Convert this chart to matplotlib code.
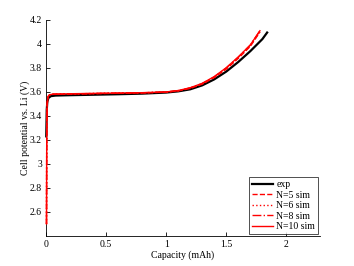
import matplotlib
matplotlib.use('Agg')
import matplotlib.pyplot as plt

plt.rcParams['font.family'] = ['Liberation Serif']
plt.rcParams['font.size'] = 7

# experiment
expCap = [0.002, 0.006, 0.011, 0.02, 0.04, 0.08, 0.2, 0.4, 0.6, 0.8, 1.0, 1.1, 1.2, 1.3, 1.4, 1.5, 1.6, 1.7, 1.8, 1.84]
expV = [3.23, 3.45, 3.52, 3.55, 3.565, 3.57, 3.573, 3.577, 3.581, 3.586, 3.595, 3.605, 3.622, 3.655, 3.705, 3.77, 3.85, 3.94, 4.04, 4.095]

# simulations
simCap = [0.004, 0.006, 0.01, 0.016, 0.03, 0.06, 0.2, 0.4, 0.6, 0.8, 1.0, 1.1, 1.2, 1.3, 1.4, 1.5, 1.6, 1.7, 1.78]
simV5 = [2.5, 3.3, 3.5, 3.56, 3.575, 3.58, 3.583, 3.586, 3.589, 3.592, 3.598, 3.608, 3.63, 3.665, 3.72, 3.79, 3.88, 3.98, 4.1]
simV6 = [2.5, 3.3, 3.5, 3.56, 3.576, 3.581, 3.584, 3.587, 3.59, 3.593, 3.599, 3.61, 3.632, 3.668, 3.723, 3.795, 3.885, 3.985, 4.1]
simV8 = [2.5, 3.31, 3.5, 3.561, 3.576, 3.581, 3.584, 3.587, 3.59, 3.593, 3.6, 3.611, 3.634, 3.67, 3.726, 3.8, 3.89, 3.99, 4.11]
simV10 = [2.5, 3.31, 3.51, 3.562, 3.577, 3.582, 3.585, 3.588, 3.591, 3.594, 3.6, 3.612, 3.635, 3.672, 3.728, 3.802, 3.892, 3.992, 4.11]

yTicks = [2.6, 2.8, 3, 3.2, 3.4, 3.6, 3.8, 4, 4.2]
yLabels = ['2.6', '2.8', '3', '3.2', '3.4', '3.6', '3.8', '4', '4.2']
xTicks = [0, 0.5, 1, 1.5, 2]
xLabels = ['0', '0.5', '1', '1.5', '2']

fig = plt.figure(figsize=(3.54, 2.66), dpi=100)
ax = fig.add_axes([0.13, 0.113, 0.774, 0.812])

ax.plot(expCap, expV, 'k-', linewidth=1.6, label='exp', zorder=3, clip_on=False)
ax.plot(simCap, simV5, 'r--', linewidth=1.0, label='N=5 sim', zorder=4, clip_on=False)
ax.plot(simCap, simV6, 'r:', linewidth=1.0, label='N=6 sim', zorder=4, clip_on=False)
ax.plot(simCap, simV8, 'r-.', linewidth=1.0, label='N=8 sim', zorder=4, clip_on=False)
ax.plot(simCap, simV10, 'r-', linewidth=1.0, label='N=10 sim', zorder=4, clip_on=False)

ax.set_xlim(0, 2.28)
ax.set_ylim(2.4, 4.2)
ax.set_xticks(xTicks)
ax.set_xticklabels(xLabels)
ax.set_yticks(yTicks)
ax.set_yticklabels(yLabels)
ax.tick_params(direction='in', length=3, width=0.6, pad=3)
ax.spines['top'].set_visible(False)
ax.spines['right'].set_visible(False)
ax.spines['left'].set_linewidth(0.6)
ax.spines['bottom'].set_linewidth(0.6)

ax.set_xlabel('Capacity (mAh)', labelpad=1)
ax.set_ylabel('Cell potential vs. Li (V)', labelpad=0)

leg = ax.legend(loc='lower right', fancybox=False, edgecolor='k', handlelength=2.2,
                handletextpad=0.3, borderpad=0.3, labelspacing=0.15, borderaxespad=0.2)
leg.get_frame().set_linewidth(0.6)
leg.set_zorder(5)

fig.savefig('out.png', dpi=100)
